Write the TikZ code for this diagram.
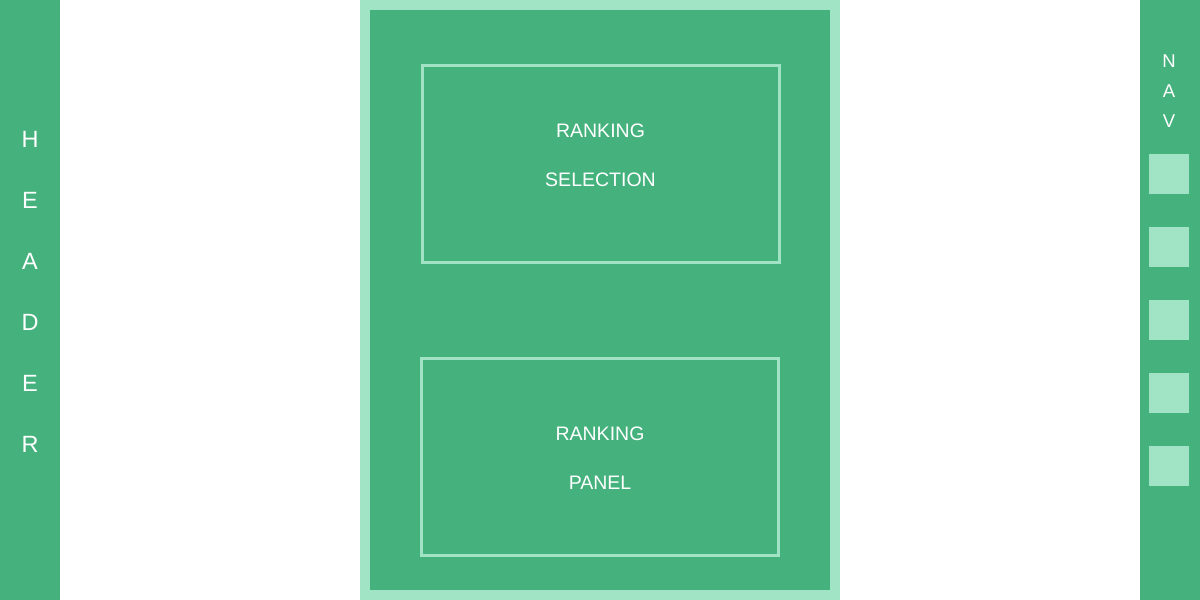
\documentclass[tikz,border=0pt]{standalone}
\usepackage{fontspec}
\setmainfont{Liberation Sans}
\definecolor{panelgreen}{HTML}{45B27D}
\definecolor{panellight}{HTML}{A0E4C5}
\begin{document}
\begin{tikzpicture}[x=1pt,y=-1pt,
  bar/.style={fill=panelgreen,draw=none},
  slot/.style={draw=panellight,line width=3pt},
  navbtn/.style={fill=panellight,draw=none},
  lbl/.style={text=white,inner sep=0pt,font=\fontsize{19.5}{20}\selectfont},
  hdr/.style={text=white,inner sep=0pt,font=\fontsize{23.5}{24}\selectfont},
  navl/.style={text=white,inner sep=0pt,font=\fontsize{18.5}{19}\selectfont}]
\useasboundingbox (0,0) rectangle (1200,600);
\fill[white] (0,0) rectangle (1200,600);
% header bar
\fill[bar] (0,0) rectangle (60,600);
\foreach \ch [count=\i from 0] in {H,E,A,D,E,R}
  \node[hdr] (hdr\i) at (30,{139+61*\i}) {\ch};
% main frame
\fill[panellight] (360,0) rectangle (840,600);
\fill[bar] (370,10) rectangle (830,590);
\draw[slot] (422.5,65.5) rectangle (779.5,262.5);
\node[lbl] (sel1) at (600.5,131) {RANKING};
\node[lbl] (sel2) at (600.5,180) {SELECTION};
\draw[slot] (421.5,358.5) rectangle (778.5,555.5);
\node[lbl] (pan1) at (600,434) {RANKING};
\node[lbl] (pan2) at (600,483) {PANEL};
% navigation bar
\fill[bar] (1140,0) rectangle (1200,600);
\foreach \ch [count=\i from 0] in {N,A,V}
  \node[navl] (nav\i) at (1169,{61+30*\i}) {\ch};
\foreach \i in {0,...,4}
  \fill[navbtn] (1149,{154+73*\i}) rectangle (1189,{194+73*\i});
\end{tikzpicture}
\end{document}
